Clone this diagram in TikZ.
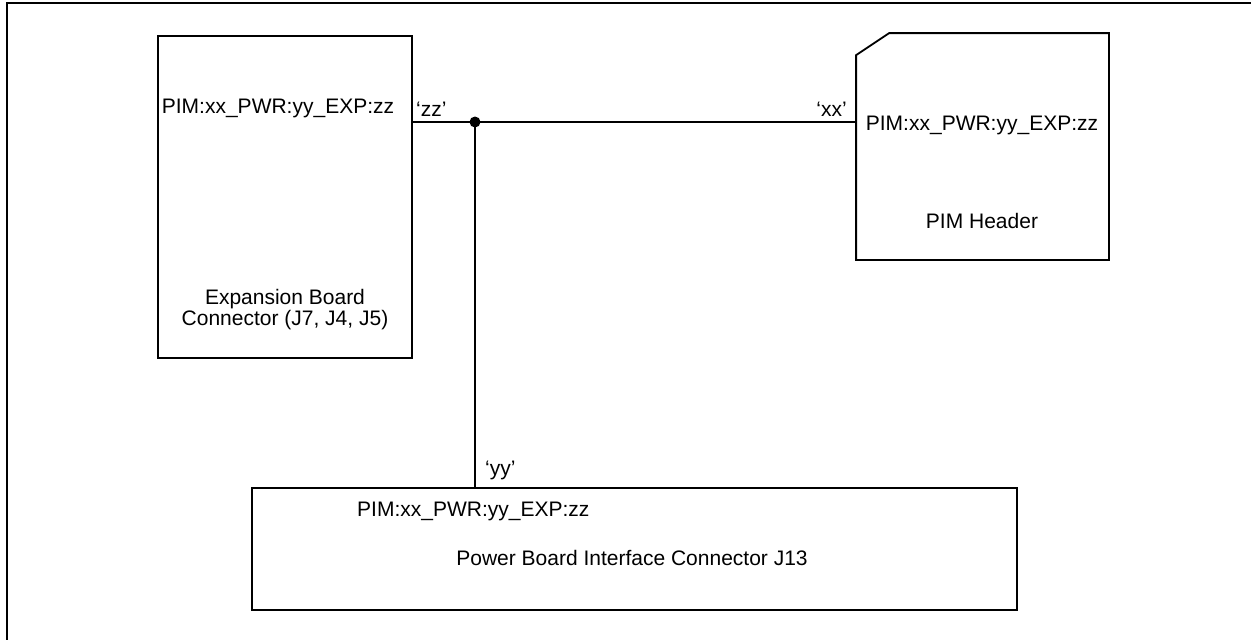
\documentclass[tikz,border=0pt]{standalone}
\usepackage{fontspec}
\setmainfont{Liberation Sans}
\tikzset{
  boxshape/.style={rectangle, inner sep=0pt, line width=1.8pt},
  txt/.style={inner sep=0pt, font=\fontsize{21}{21}\selectfont},
  wire/.style={line width=1.6pt},
}
\begin{document}
\begin{tikzpicture}[x=1pt,y=-1pt]
\useasboundingbox (0,0) rectangle (1251,640);
\clip (0,0) rectangle (1251,640);
% outer frame (partly cut off)
\draw[line width=2.2pt] (7,700) -- (7,3) -- (1300,3);
% boxes
\node[boxshape, draw, minimum width=254pt, minimum height=322pt] (exp) at (285,197) {};
\node[boxshape, minimum width=251pt, minimum height=225pt] (pim) at (982.5,146.5) {};
\draw[line width=1.8pt] (pim.south west) -- ([yshift=-22pt]pim.north west) -- ([xshift=33pt]pim.north west) -- (pim.north east) -- (pim.south east) -- cycle;
\node[boxshape, draw, minimum width=765pt, minimum height=122pt] (pwr) at (634.5,549) {};
% texts
\node[txt, anchor=base] (t1) at (278,113) {PIM:xx\_PWR:yy\_EXP:zz};
\node[txt, align=center, anchor=center] (t2) at (285,310) {Expansion Board\\Connector (J7, J4, J5)};
\node[txt, anchor=base] (t3) at (982,130) {PIM:xx\_PWR:yy\_EXP:zz};
\node[txt, anchor=base] (t4) at (982,228) {PIM Header};
\node[txt, anchor=base west] (t5) at (357,516) {PIM:xx\_PWR:yy\_EXP:zz};
\node[txt, anchor=base] (t6) at (632,565) {Power Board Interface Connector J13};
% labels
\node[txt, anchor=base west] (lz) at (416,116) {‘zz’};
\node[txt, anchor=base east] (lx) at (847,116) {‘xx’};
\node[txt, anchor=base west] (ly) at (485,475) {‘yy’};
% connectors
\coordinate (j) at (475,122);
\draw[wire] (exp.east |- j) -- (pim.west |- j);
\draw[wire] (j) -- (j |- pwr.north);
\fill (j) circle (5.5pt);
\end{tikzpicture}
\end{document}
